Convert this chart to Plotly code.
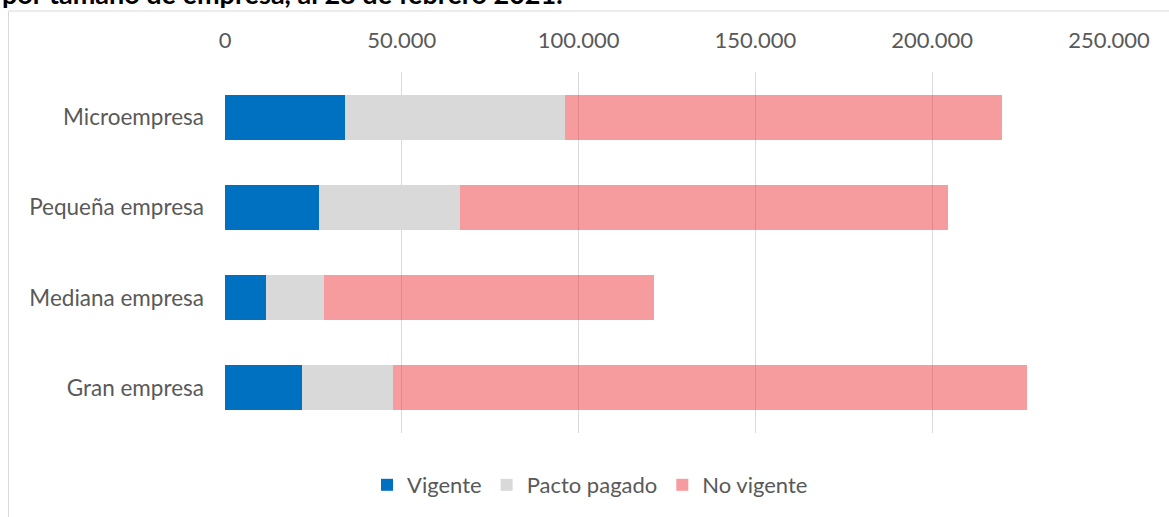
import plotly.graph_objects as go

categories = ["Microempresa", "Pequeña empresa", "Mediana empresa", "Gran empresa"]
vigente = [33800, 26600, 11600, 21700]
pacto_pagado = [62400, 39900, 16400, 25900]
no_vigente = [123500, 137900, 93400, 179200]
tick_vals = [0, 50000, 100000, 150000, 200000, 250000]
tick_text = ["0", "50.000", "100.000", "150.000", "200.000", "250.000"]
title_text = "por tamaño de empresa, al 28 de febrero 2021."

FONT = "Lato"
W, H = 1169, 517
L, R, T, B = 225, 60, 72, 84
pw, ph = W - L - R, H - T - B

fig = go.Figure()
fig.add_bar(y=categories, x=vigente, name="Vigente", orientation="h",
            marker=dict(color="#0070C0", line=dict(width=0)))
fig.add_bar(y=categories, x=pacto_pagado, name="Pacto pagado", orientation="h",
            marker=dict(color="#D9D9D9", line=dict(width=0)))
fig.add_bar(y=categories, x=no_vigente, name="No vigente", orientation="h",
            marker=dict(color="rgba(237,58,64,0.5)", line=dict(width=0)))

def px_x(p):
    return (p - L) / pw

def px_y(p):
    return (H - B - p) / ph

fig.update_layout(
    width=W, height=H,
    barmode="stack", bargap=0.5,
    margin=dict(l=L, r=R, t=T, b=B, autoexpand=False),
    paper_bgcolor="white", plot_bgcolor="white",
    font=dict(family=FONT, size=22, color="#595959"),
    xaxis=dict(side="top", range=[0, 250000], tickvals=tick_vals, ticktext=tick_text,
               showgrid=True, gridcolor="#D9D9D9", gridwidth=1, automargin=False,
               zeroline=False, showline=False, ticks="", ticklabelstandoff=19,
               tickfont=dict(family=FONT, size=22, color="#595959"), fixedrange=True),
    yaxis=dict(categoryorder="array", categoryarray=categories, autorange="reversed",
               showgrid=False, zeroline=False, showline=False, ticks="", automargin=False,
               ticklabelstandoff=20, fixedrange=True,
               tickfont=dict(family=FONT, size=22.5, color="#595959")),
    legend=dict(orientation="h", x=590 / W, xref="container", xanchor="center",
                y=(H - 485) / H, yref="container", yanchor="middle",
                font=dict(family=FONT, size=22, color="#595959"),
                traceorder="normal", itemwidth=30, tracegroupgap=0),
    shapes=[dict(type="rect", xref="paper", yref="paper",
                 x0=px_x(8.5), x1=px_x(W + 10), y0=px_y(H + 10), y1=px_y(11),
                 line=dict(color="#D9D9D9", width=1), fillcolor="rgba(0,0,0,0)",
                 layer="below")],
    annotations=[dict(text="<b>" + title_text + "</b>", xref="paper", yref="paper",
                      x=px_x(0), y=px_y(12), xanchor="left", yanchor="bottom",
                      showarrow=False,
                      font=dict(family=FONT, size=27, color="#000000"))],
)

fig.write_html("out.html", config={"displayModeBar": False},
               post_script="document.body.style.margin='0';document.body.style.overflow='hidden';")
